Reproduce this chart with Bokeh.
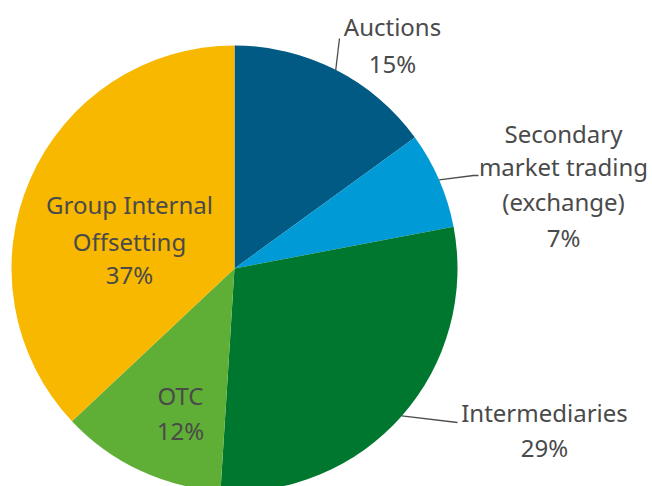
import math
from bokeh.plotting import figure
from bokeh.models import ColumnDataSource
from bokeh.core.properties import value
from bokeh.embed import file_html
from bokeh.resources import INLINE

categories = ["Auctions", "Secondary market trading (exchange)", "Intermediaries", "OTC", "Group Internal Offsetting"]
shares = [15, 7, 29, 12, 37]
colors = ["#005A83", "#009AD6", "#00772F", "#5FAF36", "#F8B800"]
label_lines = [["Auctions"], ["Secondary", "market trading", "(exchange)"], ["Intermediaries"], ["OTC"], ["Group Internal", "Offsetting"]]

W, H = 652, 486
def X(px): return px
def Y(py): return H - py

p = figure(width=W, height=H, x_range=(0, W), y_range=(0, H), output_backend="svg",
           toolbar_location=None, min_border=0)
p.axis.visible = False
p.grid.visible = False
p.outline_line_color = None
p.background_fill_color = "white"

cx, cy, r = X(234), Y(268), 223
total = sum(shares)
starts, ends, mids = [], [], []
cum = 0.0
for s in shares:
    a0 = math.pi / 2 - 2 * math.pi * (cum + s) / total
    a1 = math.pi / 2 - 2 * math.pi * cum / total
    starts.append(a0)
    ends.append(a1)
    mids.append((a0 + a1) / 2)
    cum += s

src = ColumnDataSource(dict(start=starts, end=ends, color=colors))
p.wedge(x=cx, y=cy, radius=r, start_angle="start", end_angle="end", fill_color="color",
        line_color=None, source=src)

# leader lines (start at slice mid angle on the pie edge)
leader_end = {0: [(339, 38)], 1: [(473, 175), (478, 175)], 2: [(457, 422)]}
for i, pts in leader_end.items():
    xs = [cx + r * math.cos(mids[i])] + [X(a) for a, b in pts]
    ys = [cy + r * math.sin(mids[i])] + [Y(b) for a, b in pts]
    p.line(xs, ys, line_color="#4d4d4d", line_width=1.3)

# label layout: center x and line center ys (pixels)
layout = {
    0: (392, [26, 63]),
    1: (563, [133, 166, 201, 237]),
    2: (544, [412, 447]),
    3: (180, [395, 430]),
    4: (129, [204, 241, 274]),
}
tx, ty, tt = [], [], []
for i, (lx, lys) in layout.items():
    lines = label_lines[i] + [f"{shares[i]}%"]
    for line, ly in zip(lines, lys):
        tx.append(X(lx)); ty.append(Y(ly)); tt.append(line)
p.text(x=tx, y=ty, text=tt, text_align="center", text_baseline="middle",
       text_font=value("Noto Sans"), text_font_size="24px", text_color="#4a4a4a")

open("out.html", "w").write(file_html(p, INLINE))
